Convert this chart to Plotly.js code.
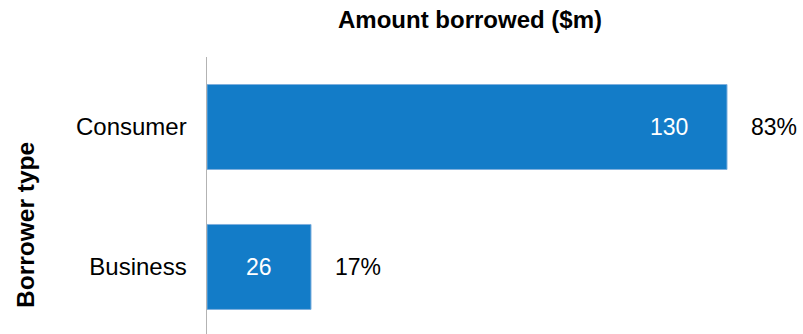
<!DOCTYPE html>
<html>
<head>
<meta charset="utf-8">
<script src="https://cdn.plot.ly/plotly-3.0.1.min.js"></script>
<style>html,body{margin:0;padding:0;background:#fff;}#chart{width:803px;height:334px;}</style>
</head>
<body>
<div id="chart"></div>
<script>
const categories = ['Consumer', 'Business'];
const amounts = [130, 26];
const shares = [83, 17];
const valueLabels = ['130', '26'];

const FONT = 'Liberation Sans, Arial, Helvetica, sans-serif';
const W = 803, H = 334, L = 207, T = 57;
const plotW = W - L;
const pxPerUnit = 4.0;

const trace = {
  type: 'bar',
  orientation: 'h',
  y: categories,
  x: amounts,
  width: 0.607,
  marker: { color: '#137CC8', line: { color: '#7FB0DE', width: 1 } },
  hoverinfo: 'none'
};

const annotations = [];
categories.forEach((c, i) => {
  annotations.push({
    x: amounts[i], y: c, xref: 'x', yref: 'y',
    text: valueLabels[i], showarrow: false,
    xanchor: 'right', xshift: -37,
    font: { family: FONT, size: 23, color: '#ffffff' }
  });
  annotations.push({
    x: amounts[i], y: c, xref: 'x', yref: 'y',
    text: shares[i] + '%', showarrow: false,
    xanchor: 'left', xshift: 22,
    font: { family: FONT, size: 23, color: '#000000' }
  });
});
annotations.push({
  xref: 'paper', yref: 'paper',
  x: (25 - L) / plotW, y: (H - 225) / (H - T),
  xanchor: 'center', yanchor: 'middle',
  text: '<b>Borrower type</b>', textangle: -90, showarrow: false,
  font: { family: FONT, size: 24.5, color: '#000000' }
});

const layout = {
  width: W, height: H,
  margin: { l: L, r: 0, t: T, b: 0, pad: 0 },
  paper_bgcolor: '#ffffff', plot_bgcolor: '#ffffff',
  showlegend: false,
  title: {
    text: '<b>Amount borrowed ($m)</b>',
    x: 470 / W, xref: 'container', xanchor: 'center',
    y: 1 - 20 / H, yref: 'container', yanchor: 'middle',
    font: { family: FONT, size: 24, color: '#000000' }
  },
  xaxis: {
    range: [0, plotW / pxPerUnit],
    showgrid: false, zeroline: false, showline: false,
    showticklabels: false, ticks: ''
  },
  yaxis: {
    type: 'category',
    categoryorder: 'array', categoryarray: categories,
    range: [1.479, -0.5],
    showgrid: false, zeroline: false,
    showline: true, linecolor: '#b3b3b3', linewidth: 1.5,
    ticks: '', ticklabelstandoff: 14,
    tickfont: { family: FONT, size: 24, color: '#000000' }
  },
  annotations: annotations
};

Plotly.newPlot('chart', [trace], layout, { displayModeBar: false, staticPlot: true });
</script>
</body>
</html>
